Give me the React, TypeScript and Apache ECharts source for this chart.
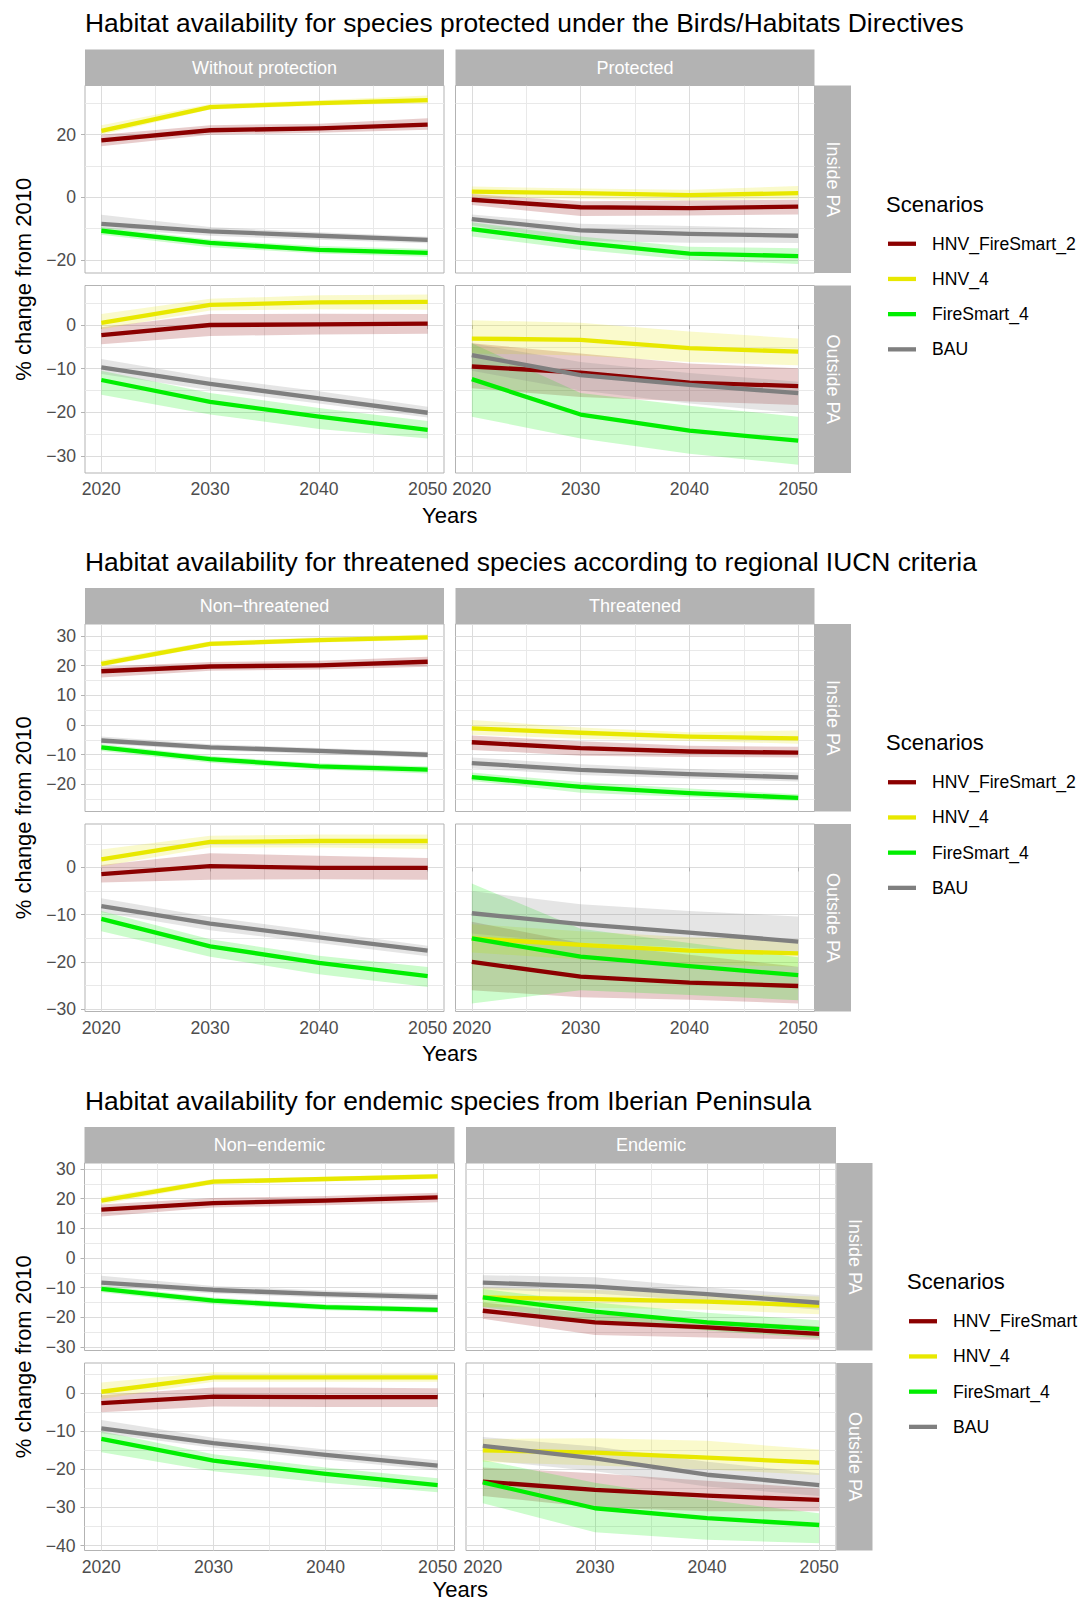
import React, { useEffect, useRef } from 'react';
import * as echarts from 'echarts';

// ---------- categories / labels ----------
const YEARS = [2020, 2030, 2040, 2050];
const SCENARIOS = ['HNV_FireSmart_2', 'HNV_4', 'FireSmart_4', 'BAU'];
const LEGEND_LABELS = [
  ['HNV_FireSmart_2', 'HNV_4', 'FireSmart_4', 'BAU'],
  ['HNV_FireSmart_2', 'HNV_4', 'FireSmart_4', 'BAU'],
  ['HNV_FireSmart', 'HNV_4', 'FireSmart_4', 'BAU'],
];
const COLORS = ['#8b0000', '#e8e800', '#00ee00', '#7f7f7f'];
const TITLES = [
  'Habitat availability for species protected under the Birds/Habitats Directives',
  'Habitat availability for threatened species according to regional IUCN criteria',
  'Habitat availability for endemic species from Iberian Peninsula',
];
const COL_LABELS = [
  ['Without protection', 'Protected'],
  ['Non\u2212threatened', 'Threatened'],
  ['Non\u2212endemic', 'Endemic'],
];
const ROW_LABELS = ['Inside PA', 'Outside PA'];
const X_TITLE = 'Years';
const Y_TITLE = '% change from 2010';
const LEGEND_TITLE = 'Scenarios';

// ---------- y ranges (per block, per row) and major breaks ----------
const Y_RANGES = [
  [[-24.2, 35.7], [-33.9, 9.05]],
  [[-29.1, 34.0], [-30.5, 9.2]],
  [[-31.2, 32.0], [-41.3, 7.95]],
];
const Y_MAJOR = [
  [20, 10],
  [10, 10],
  [10, 10],
];
const X_RANGE = [2018.5, 2051.5];
const X_MAJOR = 10;

// ---------- data: Birds/Habitats ----------
// Without protection, Inside PA
const BH_C1_IN_HFS = [18.2, 21.4, 22.0, 23.2];
const BH_C1_IN_HFS_LO = [16.3, 20.0, 20.6, 21.6];
const BH_C1_IN_HFS_HI = [20.0, 23.0, 23.5, 25.2];
const BH_C1_IN_HNV = [21.2, 28.8, 30.1, 31.0];
const BH_C1_IN_HNV_LO = [20.0, 28.0, 29.3, 30.0];
const BH_C1_IN_HNV_HI = [23.0, 29.8, 31.0, 32.5];
const BH_C1_IN_FS = [-10.7, -14.6, -16.8, -17.8];
const BH_C1_IN_FS_LO = [-12.0, -16.0, -18.0, -19.0];
const BH_C1_IN_FS_HI = [-9.5, -13.5, -15.6, -16.5];
const BH_C1_IN_BAU = [-8.5, -10.9, -12.3, -13.6];
const BH_C1_IN_BAU_LO = [-10.0, -12.3, -13.6, -14.7];
const BH_C1_IN_BAU_HI = [-5.6, -9.5, -11.2, -12.6];
// Protected, Inside PA
const BH_C2_IN_HFS = [-0.8, -3.2, -3.5, -3.0];
const BH_C2_IN_HFS_LO = [-2.5, -6.0, -5.8, -5.5];
const BH_C2_IN_HFS_HI = [1.0, -1.3, -1.0, -0.8];
const BH_C2_IN_HNV = [1.8, 1.3, 0.7, 1.3];
const BH_C2_IN_HNV_LO = [0.0, -0.5, -1.0, -0.5];
const BH_C2_IN_HNV_HI = [3.4, 2.8, 2.4, 3.6];
const BH_C2_IN_FS = [-10.2, -14.6, -18.0, -18.8];
const BH_C2_IN_FS_LO = [-12.5, -16.8, -20.0, -21.3];
const BH_C2_IN_FS_HI = [-8.0, -12.5, -15.8, -16.3];
const BH_C2_IN_BAU = [-7.0, -10.6, -11.7, -12.3];
const BH_C2_IN_BAU_LO = [-9.0, -14.0, -14.5, -14.6];
const BH_C2_IN_BAU_HI = [-5.5, -8.5, -9.2, -10.0];
// Without protection, Outside PA
const BH_C1_OUT_HFS = [-2.3, 0.0, 0.15, 0.3];
const BH_C1_OUT_HFS_LO = [-4.4, -2.5, -2.2, -2.0];
const BH_C1_OUT_HFS_HI = [-0.5, 2.5, 2.6, 2.5];
const BH_C1_OUT_HNV = [0.5, 4.6, 5.2, 5.3];
const BH_C1_OUT_HNV_LO = [-1.0, 3.3, 3.6, 3.5];
const BH_C1_OUT_HNV_HI = [2.5, 6.0, 6.8, 7.0];
const BH_C1_OUT_FS = [-12.6, -17.6, -21.0, -24.0];
const BH_C1_OUT_FS_LO = [-16.0, -20.5, -23.8, -26.0];
const BH_C1_OUT_FS_HI = [-10.5, -15.6, -19.0, -22.0];
const BH_C1_OUT_BAU = [-9.7, -13.5, -16.8, -20.1];
const BH_C1_OUT_BAU_LO = [-11.2, -14.9, -18.0, -21.2];
const BH_C1_OUT_BAU_HI = [-7.8, -12.0, -15.2, -18.7];
// Protected, Outside PA
const BH_C2_OUT_HFS = [-9.5, -10.9, -13.2, -14.0];
const BH_C2_OUT_HFS_LO = [-14.5, -16.5, -17.5, -18.3];
const BH_C2_OUT_HFS_HI = [-4.2, -6.5, -8.8, -9.9];
const BH_C2_OUT_HNV = [-3.1, -3.4, -5.3, -6.1];
const BH_C2_OUT_HNV_LO = [-6.5, -7.0, -8.5, -9.2];
const BH_C2_OUT_HNV_HI = [1.1, 0.5, -1.5, -3.1];
const BH_C2_OUT_FS = [-12.4, -20.5, -24.2, -26.5];
const BH_C2_OUT_FS_LO = [-21.0, -26.0, -29.5, -32.0];
const BH_C2_OUT_FS_HI = [-4.2, -15.6, -18.5, -21.0];
const BH_C2_OUT_BAU = [-6.9, -11.5, -13.7, -15.6];
const BH_C2_OUT_BAU_LO = [-10.5, -15.0, -18.0, -20.2];
const BH_C2_OUT_BAU_HI = [-4.2, -8.5, -11.0, -13.0];

// ---------- data: IUCN threatened ----------
// Non-threatened, Inside PA
const TH_C1_IN_HFS = [18.1, 19.7, 20.1, 21.3];
const TH_C1_IN_HFS_LO = [16.0, 18.3, 18.7, 19.6];
const TH_C1_IN_HFS_HI = [19.6, 21.2, 21.6, 23.0];
const TH_C1_IN_HNV = [20.6, 27.3, 28.6, 29.5];
const TH_C1_IN_HNV_LO = [19.6, 26.5, 27.8, 28.6];
const TH_C1_IN_HNV_HI = [21.8, 28.2, 29.5, 30.5];
const TH_C1_IN_FS = [-7.5, -11.5, -13.9, -15.0];
const TH_C1_IN_FS_LO = [-8.7, -12.7, -15.0, -16.3];
const TH_C1_IN_FS_HI = [-6.4, -10.4, -12.9, -13.9];
const TH_C1_IN_BAU = [-5.2, -7.5, -8.7, -10.0];
const TH_C1_IN_BAU_LO = [-6.3, -8.5, -9.8, -11.0];
const TH_C1_IN_BAU_HI = [-3.9, -6.5, -7.7, -9.0];
// Threatened, Inside PA
const TH_C2_IN_HFS = [-5.8, -7.8, -8.9, -9.3];
const TH_C2_IN_HFS_LO = [-8.4, -10.3, -10.8, -10.9];
const TH_C2_IN_HFS_HI = [-3.5, -5.5, -7.0, -7.3];
const TH_C2_IN_HNV = [-1.1, -2.6, -3.9, -4.5];
const TH_C2_IN_HNV_LO = [-3.3, -4.6, -5.4, -6.3];
const TH_C2_IN_HNV_HI = [1.7, -0.8, -2.4, -1.8];
const TH_C2_IN_FS = [-17.5, -20.8, -22.9, -24.5];
const TH_C2_IN_FS_LO = [-18.8, -22.8, -24.2, -25.6];
const TH_C2_IN_FS_HI = [-16.0, -19.2, -21.4, -23.3];
const TH_C2_IN_BAU = [-12.8, -15.1, -16.5, -17.6];
const TH_C2_IN_BAU_LO = [-14.6, -16.8, -18.0, -19.0];
const TH_C2_IN_BAU_HI = [-10.9, -13.2, -14.8, -16.0];
// Non-threatened, Outside PA
const TH_C1_OUT_HFS = [-1.4, 0.3, -0.1, -0.1];
const TH_C1_OUT_HFS_LO = [-3.2, -2.6, -2.5, -2.6];
const TH_C1_OUT_HFS_HI = [0.5, 3.0, 2.5, 2.0];
const TH_C1_OUT_HNV = [1.7, 5.4, 5.6, 5.6];
const TH_C1_OUT_HNV_LO = [0.2, 4.2, 4.2, 3.9];
const TH_C1_OUT_HNV_HI = [3.8, 6.7, 7.0, 7.0];
const TH_C1_OUT_FS = [-10.9, -16.7, -20.2, -23.0];
const TH_C1_OUT_FS_LO = [-13.5, -18.9, -22.6, -25.3];
const TH_C1_OUT_FS_HI = [-9.2, -15.2, -18.7, -21.1];
const TH_C1_OUT_BAU = [-8.2, -11.9, -14.8, -17.6];
const TH_C1_OUT_BAU_LO = [-9.5, -13.3, -16.0, -18.8];
const TH_C1_OUT_BAU_HI = [-6.5, -10.5, -13.5, -16.6];
// Threatened, Outside PA
const TH_C2_OUT_HFS = [-20.0, -23.1, -24.4, -25.1];
const TH_C2_OUT_HFS_LO = [-26.0, -27.5, -28.0, -28.8];
const TH_C2_OUT_HFS_HI = [-11.5, -16.0, -18.5, -21.0];
const TH_C2_OUT_HNV = [-15.0, -16.4, -17.6, -18.2];
const TH_C2_OUT_HNV_LO = [-18.0, -19.5, -20.5, -21.0];
const TH_C2_OUT_HNV_HI = [-12.0, -13.5, -14.8, -15.3];
const TH_C2_OUT_FS = [-15.0, -18.9, -20.9, -22.8];
const TH_C2_OUT_FS_LO = [-28.8, -26.0, -27.0, -28.1];
const TH_C2_OUT_FS_HI = [-3.4, -13.0, -16.0, -19.0];
const TH_C2_OUT_BAU = [-9.7, -12.0, -13.8, -15.7];
const TH_C2_OUT_BAU_LO = [-14.0, -16.0, -17.0, -18.5];
const TH_C2_OUT_BAU_HI = [-5.0, -7.8, -9.2, -10.4];

// ---------- data: Endemic ----------
// Non-endemic, Inside PA
const EN_C1_IN_HFS = [16.3, 18.5, 19.3, 20.4];
const EN_C1_IN_HFS_LO = [14.0, 17.0, 17.8, 18.8];
const EN_C1_IN_HFS_HI = [18.0, 20.2, 20.9, 22.0];
const EN_C1_IN_HNV = [19.3, 25.7, 26.6, 27.5];
const EN_C1_IN_HNV_LO = [18.0, 24.8, 25.8, 26.6];
const EN_C1_IN_HNV_HI = [20.5, 26.6, 27.4, 28.4];
const EN_C1_IN_FS = [-10.4, -14.4, -16.6, -17.5];
const EN_C1_IN_FS_LO = [-11.6, -15.6, -17.6, -18.6];
const EN_C1_IN_FS_HI = [-9.3, -13.3, -15.6, -16.5];
const EN_C1_IN_BAU = [-8.3, -10.8, -12.2, -13.2];
const EN_C1_IN_BAU_LO = [-9.6, -12.0, -13.3, -14.4];
const EN_C1_IN_BAU_HI = [-6.0, -9.5, -11.0, -12.0];
// Endemic, Inside PA
const EN_C2_IN_HFS = [-17.8, -21.7, -23.4, -25.6];
const EN_C2_IN_HFS_LO = [-20.5, -26.0, -26.8, -27.6];
const EN_C2_IN_HFS_HI = [-15.0, -19.0, -21.0, -23.0];
const EN_C2_IN_HNV = [-13.3, -13.9, -14.7, -16.1];
const EN_C2_IN_HNV_LO = [-16.5, -16.8, -17.5, -19.0];
const EN_C2_IN_HNV_HI = [-10.0, -10.8, -12.0, -13.0];
const EN_C2_IN_FS = [-13.3, -18.1, -21.7, -24.0];
const EN_C2_IN_FS_LO = [-16.5, -21.5, -24.5, -27.0];
const EN_C2_IN_FS_HI = [-10.5, -15.0, -18.5, -21.0];
const EN_C2_IN_BAU = [-8.3, -9.7, -12.2, -15.1];
const EN_C2_IN_BAU_LO = [-10.5, -12.0, -14.5, -17.5];
const EN_C2_IN_BAU_HI = [-5.8, -6.5, -10.0, -12.5];
// Non-endemic, Outside PA
const EN_C1_OUT_HFS = [-2.6, -0.9, -1.0, -1.0];
const EN_C1_OUT_HFS_LO = [-5.0, -3.5, -3.6, -3.6];
const EN_C1_OUT_HFS_HI = [-0.5, 1.5, 1.5, 1.3];
const EN_C1_OUT_HNV = [0.4, 4.2, 4.2, 4.2];
const EN_C1_OUT_HNV_LO = [-1.5, 3.0, 3.0, 3.0];
const EN_C1_OUT_HNV_HI = [2.8, 5.5, 5.4, 5.4];
const EN_C1_OUT_FS = [-12.0, -17.7, -21.2, -24.1];
const EN_C1_OUT_FS_LO = [-15.5, -20.5, -23.5, -26.0];
const EN_C1_OUT_FS_HI = [-10.0, -16.0, -19.5, -22.3];
const EN_C1_OUT_BAU = [-9.2, -13.1, -16.2, -19.0];
const EN_C1_OUT_BAU_LO = [-10.5, -14.3, -17.4, -20.3];
const EN_C1_OUT_BAU_HI = [-7.0, -11.7, -14.8, -17.6];
// Endemic, Outside PA
const EN_C2_OUT_HFS = [-23.2, -25.4, -26.9, -28.0];
const EN_C2_OUT_HFS_LO = [-27.0, -30.0, -31.0, -31.0];
const EN_C2_OUT_HFS_HI = [-19.5, -21.0, -23.0, -25.0];
const EN_C2_OUT_HNV = [-15.0, -15.6, -16.9, -18.2];
const EN_C2_OUT_HNV_LO = [-18.0, -19.0, -20.0, -21.5];
const EN_C2_OUT_HNV_HI = [-12.0, -11.8, -12.5, -14.8];
const EN_C2_OUT_FS = [-23.4, -30.2, -32.8, -34.6];
const EN_C2_OUT_FS_LO = [-28.9, -36.5, -38.5, -39.4];
const EN_C2_OUT_FS_HI = [-17.5, -23.5, -28.0, -31.5];
const EN_C2_OUT_BAU = [-13.8, -17.1, -21.4, -24.1];
const EN_C2_OUT_BAU_LO = [-17.5, -20.5, -24.5, -27.0];
const EN_C2_OUT_BAU_HI = [-11.5, -14.0, -18.0, -21.0];

// facet table: index = block*4 + row*2 + col ; per scenario [mean, lo, hi]
const FACETS = [
  [[BH_C1_IN_HFS, BH_C1_IN_HFS_LO, BH_C1_IN_HFS_HI], [BH_C1_IN_HNV, BH_C1_IN_HNV_LO, BH_C1_IN_HNV_HI], [BH_C1_IN_FS, BH_C1_IN_FS_LO, BH_C1_IN_FS_HI], [BH_C1_IN_BAU, BH_C1_IN_BAU_LO, BH_C1_IN_BAU_HI]],
  [[BH_C2_IN_HFS, BH_C2_IN_HFS_LO, BH_C2_IN_HFS_HI], [BH_C2_IN_HNV, BH_C2_IN_HNV_LO, BH_C2_IN_HNV_HI], [BH_C2_IN_FS, BH_C2_IN_FS_LO, BH_C2_IN_FS_HI], [BH_C2_IN_BAU, BH_C2_IN_BAU_LO, BH_C2_IN_BAU_HI]],
  [[BH_C1_OUT_HFS, BH_C1_OUT_HFS_LO, BH_C1_OUT_HFS_HI], [BH_C1_OUT_HNV, BH_C1_OUT_HNV_LO, BH_C1_OUT_HNV_HI], [BH_C1_OUT_FS, BH_C1_OUT_FS_LO, BH_C1_OUT_FS_HI], [BH_C1_OUT_BAU, BH_C1_OUT_BAU_LO, BH_C1_OUT_BAU_HI]],
  [[BH_C2_OUT_HFS, BH_C2_OUT_HFS_LO, BH_C2_OUT_HFS_HI], [BH_C2_OUT_HNV, BH_C2_OUT_HNV_LO, BH_C2_OUT_HNV_HI], [BH_C2_OUT_FS, BH_C2_OUT_FS_LO, BH_C2_OUT_FS_HI], [BH_C2_OUT_BAU, BH_C2_OUT_BAU_LO, BH_C2_OUT_BAU_HI]],
  [[TH_C1_IN_HFS, TH_C1_IN_HFS_LO, TH_C1_IN_HFS_HI], [TH_C1_IN_HNV, TH_C1_IN_HNV_LO, TH_C1_IN_HNV_HI], [TH_C1_IN_FS, TH_C1_IN_FS_LO, TH_C1_IN_FS_HI], [TH_C1_IN_BAU, TH_C1_IN_BAU_LO, TH_C1_IN_BAU_HI]],
  [[TH_C2_IN_HFS, TH_C2_IN_HFS_LO, TH_C2_IN_HFS_HI], [TH_C2_IN_HNV, TH_C2_IN_HNV_LO, TH_C2_IN_HNV_HI], [TH_C2_IN_FS, TH_C2_IN_FS_LO, TH_C2_IN_FS_HI], [TH_C2_IN_BAU, TH_C2_IN_BAU_LO, TH_C2_IN_BAU_HI]],
  [[TH_C1_OUT_HFS, TH_C1_OUT_HFS_LO, TH_C1_OUT_HFS_HI], [TH_C1_OUT_HNV, TH_C1_OUT_HNV_LO, TH_C1_OUT_HNV_HI], [TH_C1_OUT_FS, TH_C1_OUT_FS_LO, TH_C1_OUT_FS_HI], [TH_C1_OUT_BAU, TH_C1_OUT_BAU_LO, TH_C1_OUT_BAU_HI]],
  [[TH_C2_OUT_HFS, TH_C2_OUT_HFS_LO, TH_C2_OUT_HFS_HI], [TH_C2_OUT_HNV, TH_C2_OUT_HNV_LO, TH_C2_OUT_HNV_HI], [TH_C2_OUT_FS, TH_C2_OUT_FS_LO, TH_C2_OUT_FS_HI], [TH_C2_OUT_BAU, TH_C2_OUT_BAU_LO, TH_C2_OUT_BAU_HI]],
  [[EN_C1_IN_HFS, EN_C1_IN_HFS_LO, EN_C1_IN_HFS_HI], [EN_C1_IN_HNV, EN_C1_IN_HNV_LO, EN_C1_IN_HNV_HI], [EN_C1_IN_FS, EN_C1_IN_FS_LO, EN_C1_IN_FS_HI], [EN_C1_IN_BAU, EN_C1_IN_BAU_LO, EN_C1_IN_BAU_HI]],
  [[EN_C2_IN_HFS, EN_C2_IN_HFS_LO, EN_C2_IN_HFS_HI], [EN_C2_IN_HNV, EN_C2_IN_HNV_LO, EN_C2_IN_HNV_HI], [EN_C2_IN_FS, EN_C2_IN_FS_LO, EN_C2_IN_FS_HI], [EN_C2_IN_BAU, EN_C2_IN_BAU_LO, EN_C2_IN_BAU_HI]],
  [[EN_C1_OUT_HFS, EN_C1_OUT_HFS_LO, EN_C1_OUT_HFS_HI], [EN_C1_OUT_HNV, EN_C1_OUT_HNV_LO, EN_C1_OUT_HNV_HI], [EN_C1_OUT_FS, EN_C1_OUT_FS_LO, EN_C1_OUT_FS_HI], [EN_C1_OUT_BAU, EN_C1_OUT_BAU_LO, EN_C1_OUT_BAU_HI]],
  [[EN_C2_OUT_HFS, EN_C2_OUT_HFS_LO, EN_C2_OUT_HFS_HI], [EN_C2_OUT_HNV, EN_C2_OUT_HNV_LO, EN_C2_OUT_HNV_HI], [EN_C2_OUT_FS, EN_C2_OUT_FS_LO, EN_C2_OUT_FS_HI], [EN_C2_OUT_BAU, EN_C2_OUT_BAU_LO, EN_C2_OUT_BAU_HI]],
];

// ---------- layout ----------
const FONT = '"Liberation Sans", Arial, Helvetica, sans-serif';
const LAYOUT = [
  { stripTop: 49.5, cols: [[85, 359], [455.5, 359]], vstripX: 815, legTitleX: 886, keyX: 888, legTextX: 932, yearsDy: 42 },
  { stripTop: 588, cols: [[85, 359], [455.5, 359]], vstripX: 815, legTitleX: 886, keyX: 888, legTextX: 932, yearsDy: 42 },
  { stripTop: 1127, cols: [[84.5, 370], [466, 370]], vstripX: 836.5, legTitleX: 907, keyX: 909, legTextX: 953, yearsDy: 38.5 },
];
const STRIP_H = 36;
const ROW_H = 187.5;
const ROW_STEP = 200;

function hexToRgba(hex: string, a: number) {
  const n = parseInt(hex.slice(1), 16);
  return `rgba(${(n >> 16) & 255},${(n >> 8) & 255},${n & 255},${a})`;
}
function isMult(v: number, m: number) {
  return Math.abs(v / m - Math.round(v / m)) < 1e-6;
}
function fmtNum(v: number) {
  const r = Math.round(v);
  return r < 0 ? '\u2212' + Math.abs(r) : String(r);
}
function majors(min: number, max: number, step: number) {
  const out: number[] = [];
  for (let v = Math.ceil(min / step) * step; v <= max + 1e-9; v += step) out.push(Math.round(v * 1e6) / 1e6);
  return out;
}
function txt(text: string, x: number, y: number, size: number, opts: any = {}) {
  const align = opts.align || 'left';
  return {
    type: 'text',
    x,
    y,
    rotation: opts.rotation || 0,
    silent: true,
    z: 10,
    style: {
      text,
      x: 0,
      y: 0,
      fill: opts.fill || '#000000',
      font: `${size}px ${FONT}`,
      align,
      verticalAlign: 'middle',
      textAlign: align,
      textVerticalAlign: 'middle',
    },
  };
}

function buildOption() {
  const grids: any[] = [];
  const xAxes: any[] = [];
  const yAxes: any[] = [];
  const bandSeries: any[] = [];
  const lineSeries: any[] = [];
  const graphics: any[] = [];

  for (let b = 0; b < 3; b++) {
    const L = LAYOUT[b];
    const panelTop = L.stripTop + STRIP_H;
    const plotLeft = L.cols[0][0];
    const plotRight = L.cols[1][0] + L.cols[1][1];
    const center = panelTop + (ROW_STEP + ROW_H) / 2;

    // title
    graphics.push(txt(TITLES[b], 85, L.stripTop - 26.5, 26.4));
    // column strips
    for (let c = 0; c < 2; c++) {
      graphics.push({
        type: 'rect', silent: true, z: 9,
        shape: { x: L.cols[c][0], y: L.stripTop, width: L.cols[c][1], height: STRIP_H },
        style: { fill: '#b3b3b3' },
      });
      graphics.push(txt(COL_LABELS[b][c], L.cols[c][0] + L.cols[c][1] / 2, L.stripTop + STRIP_H / 2, 18, { align: 'center', fill: '#ffffff' }));
    }
    // row strips
    for (let r = 0; r < 2; r++) {
      const top = panelTop + r * ROW_STEP;
      graphics.push({
        type: 'rect', silent: true, z: 9,
        shape: { x: L.vstripX, y: top, width: STRIP_H, height: ROW_H },
        style: { fill: '#b3b3b3' },
      });
      graphics.push(txt(ROW_LABELS[r], L.vstripX + STRIP_H / 2, top + ROW_H / 2, 18, { align: 'center', fill: '#ffffff', rotation: -Math.PI / 2 }));
    }
    // axis titles
    graphics.push(txt(X_TITLE, (plotLeft + plotRight) / 2, panelTop + ROW_STEP + ROW_H + L.yearsDy, 22, { align: 'center' }));
    graphics.push(txt(Y_TITLE, 23, center, 22, { align: 'center', rotation: Math.PI / 2 }));
    // legend
    graphics.push(txt(LEGEND_TITLE, L.legTitleX, center - 75, 22));
    for (let s = 0; s < 4; s++) {
      const y = center - 35.5 + 35.2 * s;
      graphics.push({
        type: 'line', silent: true, z: 10,
        shape: { x1: L.keyX, y1: y, x2: L.keyX + 28, y2: y },
        style: { stroke: COLORS[s], lineWidth: 4.3 },
      });
      graphics.push(txt(LEGEND_LABELS[b][s], L.legTextX, y, 17.6));
    }

    for (let r = 0; r < 2; r++) {
      const [ymin, ymax] = Y_RANGES[b][r];
      const major = Y_MAJOR[b][r];
      const splitNumber = Math.round((ymax - ymin) / major);
      for (let c = 0; c < 2; c++) {
        const gi = b * 4 + r * 2 + c;
        grids.push({
          left: L.cols[c][0],
          top: panelTop + r * ROW_STEP,
          width: L.cols[c][1],
          height: ROW_H,
          show: true,
          borderColor: '#b3b3b3',
          borderWidth: 1,
          backgroundColor: '#ffffff',
          containLabel: false,
        });
        xAxes.push({
          gridIndex: gi,
          type: 'value',
          min: X_RANGE[0],
          max: X_RANGE[1],
          splitNumber: 3,
          axisLine: { show: false },
          axisTick: { show: r === 1, length: 4, customValues: YEARS, lineStyle: { color: '#b3b3b3' } },
          axisLabel: {
            show: r === 1,
            margin: 7,
            color: '#4d4d4d',
            fontSize: 17.6,
            fontFamily: FONT,
            formatter: (v: number) => (isMult(v, X_MAJOR) ? String(Math.round(v)) : ''),
          },
          splitLine: { show: true, lineStyle: { color: '#dcdcdc', width: 1 } },
          minorTick: { show: false, splitNumber: 2 },
          minorSplitLine: { show: true, lineStyle: { color: '#e9e9e9', width: 1 } },
        });
        yAxes.push({
          gridIndex: gi,
          type: 'value',
          min: ymin,
          max: ymax,
          splitNumber,
          axisLine: { show: false },
          axisTick: { show: c === 0, length: 4, customValues: majors(ymin, ymax, major), lineStyle: { color: '#b3b3b3' } },
          axisLabel: {
            show: c === 0,
            margin: 9,
            color: '#4d4d4d',
            fontSize: 17.6,
            fontFamily: FONT,
            formatter: (v: number) => (isMult(v, major) ? fmtNum(v) : ''),
          },
          splitLine: { show: true, lineStyle: { color: '#dcdcdc', width: 1 } },
          minorTick: { show: false, splitNumber: 2 },
          minorSplitLine: { show: true, lineStyle: { color: '#e9e9e9', width: 1 } },
        });

        const facet = FACETS[gi];
        for (let s = 0; s < 4; s++) {
          const [mean, lo, hi] = facet[s];
          const fill = hexToRgba(COLORS[s], 0.2);
          bandSeries.push({
            type: 'custom',
            name: SCENARIOS[s] + ' band',
            xAxisIndex: gi,
            yAxisIndex: gi,
            silent: true,
            z: 2,
            data: YEARS.map((yr, k) => [yr, lo[k], hi[k]]),
            encode: { x: 0, y: [1, 2] },
            renderItem: (params: any, api: any) => {
              if (params.dataIndex !== 0) return null;
              const top = YEARS.map((yr, k) => api.coord([yr, hi[k]]));
              const bot = YEARS.map((yr, k) => api.coord([yr, lo[k]])).reverse();
              return { type: 'polygon', shape: { points: top.concat(bot) }, style: { fill } };
            },
          });
          lineSeries.push({
            type: 'line',
            name: SCENARIOS[s],
            xAxisIndex: gi,
            yAxisIndex: gi,
            silent: true,
            z: 3,
            symbol: 'none',
            showSymbol: false,
            data: YEARS.map((yr, k) => [yr, mean[k]]),
            lineStyle: { color: COLORS[s], width: 4.3, join: 'round', cap: 'butt' },
            itemStyle: { color: COLORS[s] },
          });
        }
      }
    }
  }

  return {
    animation: false,
    backgroundColor: '#ffffff',
    textStyle: { fontFamily: FONT },
    grid: grids,
    xAxis: xAxes,
    yAxis: yAxes,
    series: [...bandSeries, ...lineSeries],
    graphic: { elements: graphics },
  };
}

export default function App() {
  const ref = useRef<HTMLDivElement>(null);
  useEffect(() => {
    if (!ref.current) return;
    const chart = echarts.init(ref.current, undefined, { renderer: 'svg' });
    chart.setOption(buildOption() as any);
    return () => chart.dispose();
  }, []);
  return (
    <div
      ref={ref}
      style={{ position: 'absolute', left: 0, top: 0, width: 1086, height: 1603, background: '#ffffff' }}
    />
  );
}
